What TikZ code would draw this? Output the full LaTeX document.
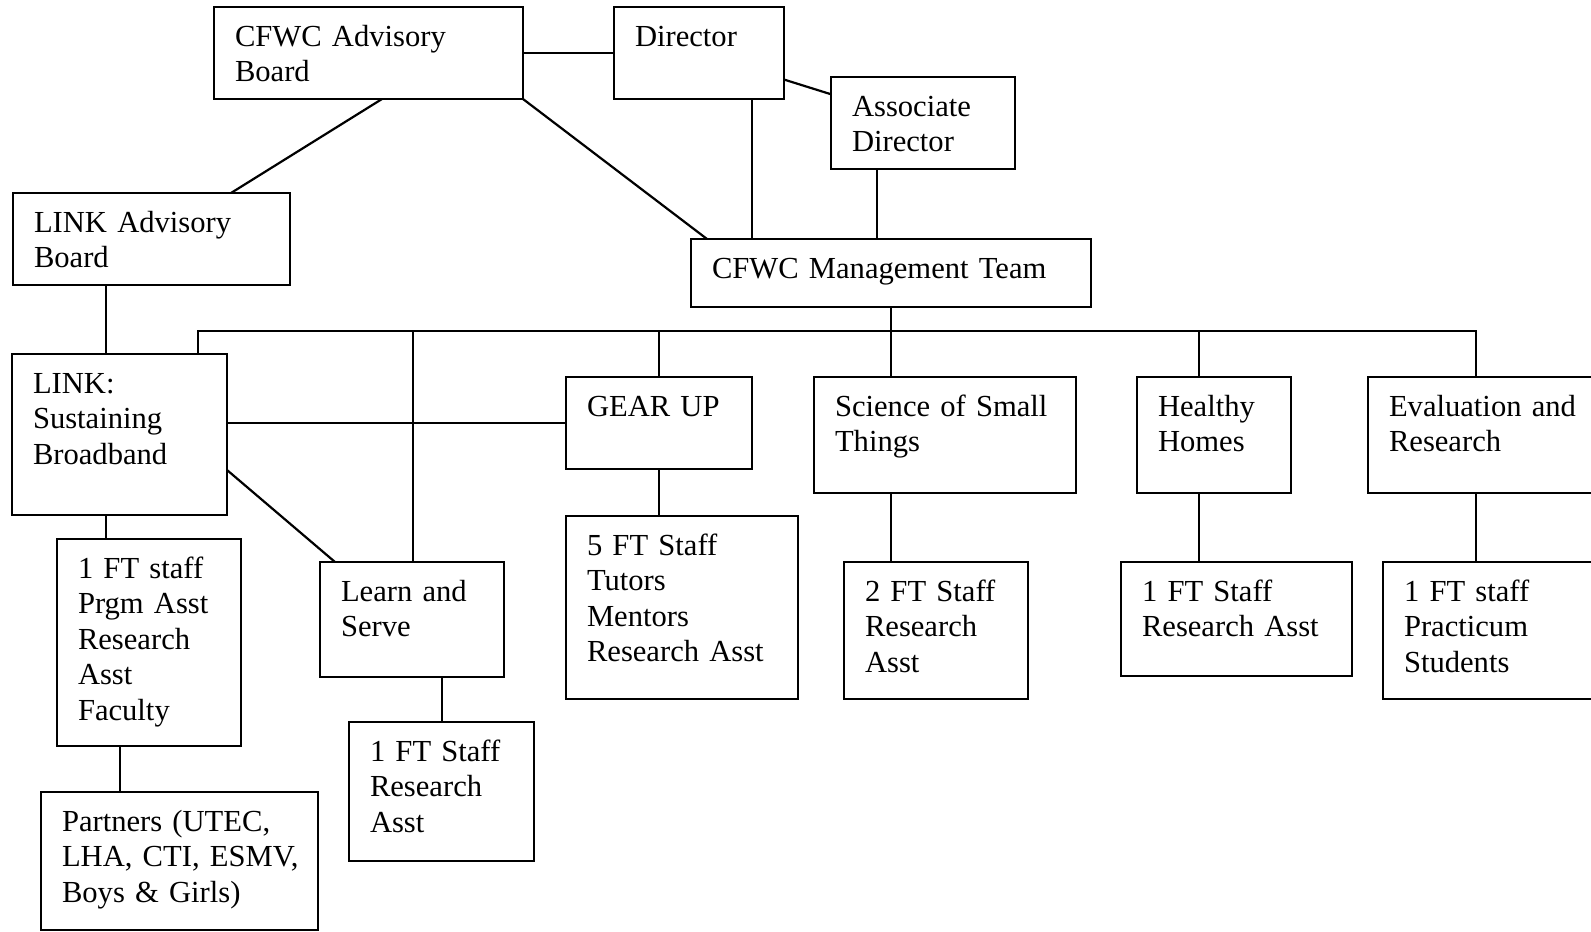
\documentclass[tikz,border=0pt]{standalone}
\usepackage{fontspec}
\setmainfont{Liberation Serif}
\usepackage{tikz}
\usetikzlibrary{calc}
\tikzstyle{unit}=[rectangle,draw=black,line width=1.1pt,anchor=north west,
  inner xsep=0pt,inner ysep=0pt,outer sep=0pt,align=left,text height=19.5pt,
  font=\fontsize{15.3pt}{17.8pt}\selectfont,
  execute at begin node={\leftskip=10.5pt}]
\tikzstyle{none}=[]
\tikzset{dims/.style 2 args={text width=#1pt,text depth=#2pt}}

\begin{document}
\begin{tikzpicture}[x=0.5pt,y=-0.5pt,line width=1.1pt]
            \useasboundingbox (0,0) rectangle (1591,932);
            \clip (0,0) rectangle (1591,932);
            \node [style=unit,dims={154.5}{26.5}] (0) at (214,7) {CFWC Advisory\\Board};
            \node [style=unit,dims={85}{26.5}] (1) at (614,7) {Director};
            \node [style=unit,dims={92}{26.5}] (2) at (831,77) {Associate\\Director};
            \node [style=unit,dims={138.5}{26.5}] (3) at (13,193) {LINK Advisory\\Board};
            \node [style=unit,dims={200}{14.5}] (4) at (691,239) {CFWC Management Team};
            \node [style=unit,dims={107.5}{61}] (5) at (12,354) {LINK:\\Sustaining\\Broadband};
            \node [style=unit,dims={93}{26.5}] (6) at (566,377) {GEAR UP};
            \node [style=unit,dims={131}{38.5}] (7) at (814,377) {Science of Small\\Things};
            \node [style=unit,dims={77}{38.5}] (8) at (1137,377) {Healthy\\Homes};
            \node [style=unit,dims={130}{38.5}] (9) at (1368,377) {Evaluation and\\Research};
            \node [style=unit,dims={92}{84}] (10) at (57,539) {1 FT staff\\Prgm Asst\\Research\\Asst\\Faculty};
            \node [style=unit,dims={92}{38}] (11) at (320,562) {Learn and\\Serve};
            \node [style=unit,dims={116}{72}] (12) at (566,516) {5 FT Staff\\Tutors\\Mentors\\Research Asst};
            \node [style=unit,dims={92}{49}] (13) at (844,562) {2 FT Staff\\Research\\Asst};
            \node [style=unit,dims={115.5}{37.5}] (14) at (1121,562) {1 FT Staff\\Research Asst};
            \node [style=unit,dims={120}{49}] (15) at (1383,562) {1 FT staff\\Practicum\\Students};
            \node [style=unit,dims={92.5}{50}] (16) at (349,722) {1 FT Staff\\Research\\Asst};
            \node [style=unit,dims={138.5}{49.5}] (17) at (41,792) {Partners (UTEC,\\LHA, CTI, ESMV,\\Boys \& Girls)};
            \node [style=none] (18) at (891,331) {};
            \draw (0) to (1);
            \draw (1) to (2);
            \draw ($(0.south west)+(168,0)$) to ($(3.north west)+(218,0)$);
            \draw (0.south east) to ($(4.north west)+(16,0)$);
            \draw ($(4.north west)+(61,0)$) |- (1.south);
            \draw ($(4.north west)+(186,0)$) |- (2.south);
            \draw ($(5.north west)+(94,0)$) |- (3.south);
            \draw (4.south) to (4.south |- 18.center);
            \draw ($(5.north west)+(186,0)$) |- (18.center);
            \draw ($(11.north west)+(93,0)$) |- (18.center);
            \draw (6.north) |- (18.center);
            \draw ($(7.north west)+(77,0)$) |- (18.center);
            \draw ($(8.north west)+(62,0)$) |- (18.center);
            \draw ($(9.north west)+(108,0)$) |- (18.center);
            \draw (6.west) to (6.west -| 5.east);
            \draw ($(5.north east)+(0,116)$) to ($(11.north west)+(15,0)$);
            \draw ($(10.north west)+(49,0)$) |- (5.south);
            \draw ($(17.north west)+(79,0)$) |- (10.south);
            \draw ($(16.north west)+(93,0)$) |- (11.south);
            \draw (6.south) to (6.south |- 12.north);
            \draw ($(13.north west)+(47,0)$) |- (7.south);
            \draw ($(14.north west)+(78,0)$) |- (8.south);
            \draw ($(15.north west)+(93,0)$) |- (9.south);
    \end{tikzpicture}
\end{document}
